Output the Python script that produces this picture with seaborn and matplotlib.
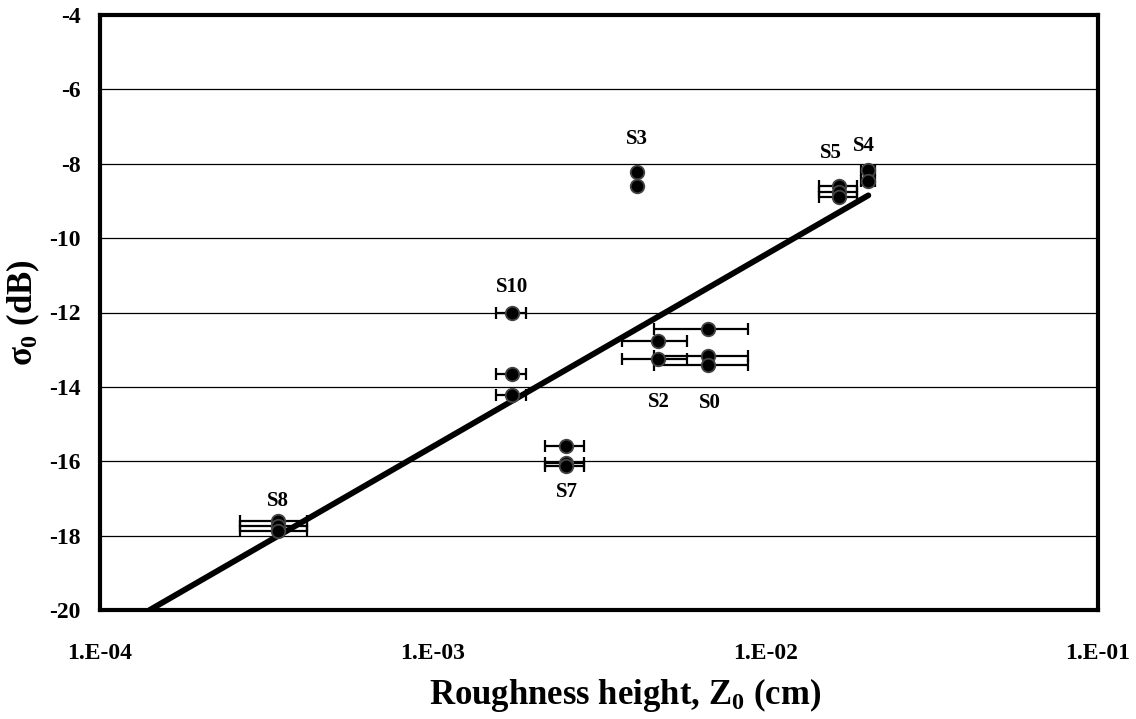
import numpy as np
import pandas as pd
import matplotlib
matplotlib.use("Agg")
import matplotlib.pyplot as plt
from matplotlib.ticker import FixedLocator, FixedFormatter, NullLocator
import seaborn as sns

# ---------------- data ----------------
sites = ["S0", "S2", "S3", "S4", "S5", "S7", "S8", "S10"]
site_z0 = [6.74e-3, 4.77e-3, 4.12e-3, 2.04e-2, 1.67e-2, 2.51e-3, 3.42e-4, 1.73e-3]
site_z0_err = [2.1e-3, 1.06e-3, 0.0, 1.0e-3, 2.2e-3, 3.4e-4, 7.8e-5, 1.8e-4]
site_sigma0 = [
    [-12.44, -13.17, -13.42],
    [-12.76, -13.26],
    [-8.23, -8.59],
    [-8.17, -8.46],
    [-8.60, -8.75, -8.90],
    [-15.59, -16.05, -16.12],
    [-17.62, -17.75, -17.88],
    [-12.00, -13.66, -14.23],
]
fit_z0 = [1.41e-4, 2.04e-2]
fit_sigma0 = [-20.0, -8.85]
x_ticks = [1e-4, 1e-3, 1e-2, 1e-1]
x_tick_labels = ["1.E-04", "1.E-03", "1.E-02", "1.E-01"]
y_ticks = [-4, -6, -8, -10, -12, -14, -16, -18, -20]

rows = []
for s, z, e, vals in zip(sites, site_z0, site_z0_err, site_sigma0):
    for v in vals:
        rows.append({"site": s, "z0": z, "err": e, "sigma0": v})
df = pd.DataFrame(rows)

# ---------------- style ----------------
sns.set_theme(style="white")
plt.rcParams["font.family"] = ["Liberation Serif", "DejaVu Serif"]
plt.rcParams["font.weight"] = "bold"
plt.rcParams["text.color"] = "black"
plt.rcParams["axes.labelcolor"] = "black"
plt.rcParams["axes.unicode_minus"] = False
plt.rcParams["mathtext.fontset"] = "custom"
plt.rcParams["mathtext.rm"] = "Liberation Serif:bold"
plt.rcParams["mathtext.it"] = "Liberation Serif:bold"
plt.rcParams["mathtext.bf"] = "Liberation Serif:bold"

fig = plt.figure(figsize=(11.36, 7.19), dpi=100)
ax = fig.add_axes([100 / 1136, 1 - 610 / 719, 998 / 1136, 595 / 719])

# error bars
eb = df[df["err"] > 0]
ax.errorbar(eb["z0"], eb["sigma0"], xerr=eb["err"], fmt="none",
            ecolor="black", elinewidth=1.6, capsize=4, capthick=1.6, zorder=3)

# fitted line
sns.lineplot(x=fit_z0, y=fit_sigma0, ax=ax, color="black", linewidth=4.2,
             zorder=4, legend=False)

# points
sns.scatterplot(data=df, x="z0", y="sigma0", ax=ax, color="black",
                edgecolor="#444444", linewidth=1.3, s=95, zorder=5, legend=False)

# site labels (offsets in points)
label_offsets = {
    "S0": (1, -27, "min"), "S2": (0, -31, "min"), "S3": (0, 24, "max"),
    "S4": (-3, 17, "max"), "S5": (-6, 24, "max"), "S7": (1, -19, "min"),
    "S8": (0, 15, "max"), "S10": (0, 18, "max"),
}
for s, z, vals in zip(sites, site_z0, site_sigma0):
    dx, dy, which = label_offsets[s]
    yref = max(vals) if which == "max" else min(vals)
    ax.annotate(s, xy=(z, yref), xytext=(dx, dy), textcoords="offset points",
                ha="center", va="center", fontsize=15, fontweight="bold",
                color="black", zorder=6)

# axes
ax.set_xscale("log")
ax.set_xlim(1e-4, 1e-1)
ax.set_ylim(-20, -4)
ax.xaxis.set_major_locator(FixedLocator(x_ticks))
ax.xaxis.set_major_formatter(FixedFormatter(x_tick_labels))
ax.xaxis.set_minor_locator(NullLocator())
ax.set_yticks(y_ticks)
ax.set_yticklabels([str(t) for t in y_ticks])

ax.yaxis.grid(True, color="black", linewidth=0.9)
ax.xaxis.grid(False)
for sp in ax.spines.values():
    sp.set_visible(True)
    sp.set_color("black")
    sp.set_linewidth(3)

ax.tick_params(axis="both", which="major", direction="out", length=5,
               width=0.8, color="#666666", labelsize=17, labelcolor="black")
ax.tick_params(axis="x", pad=19)
ax.tick_params(axis="y", pad=9)
for lbl in ax.get_xticklabels() + ax.get_yticklabels():
    lbl.set_fontweight("bold")

ax.set_xlabel("Roughness height, Z$_0$ (cm)", fontsize=25, fontweight="bold",
              color="black")
ax.set_ylabel(r"$\sigma_0$ (dB)", fontsize=25, fontweight="bold", color="black")
ax.xaxis.set_label_coords(0.526, -0.143)
ax.yaxis.set_label_coords(-0.077, 0.5)
ax.xaxis.label.set_va("center")
ax.yaxis.label.set_va("center")

fig.savefig("out.png", dpi=100)
